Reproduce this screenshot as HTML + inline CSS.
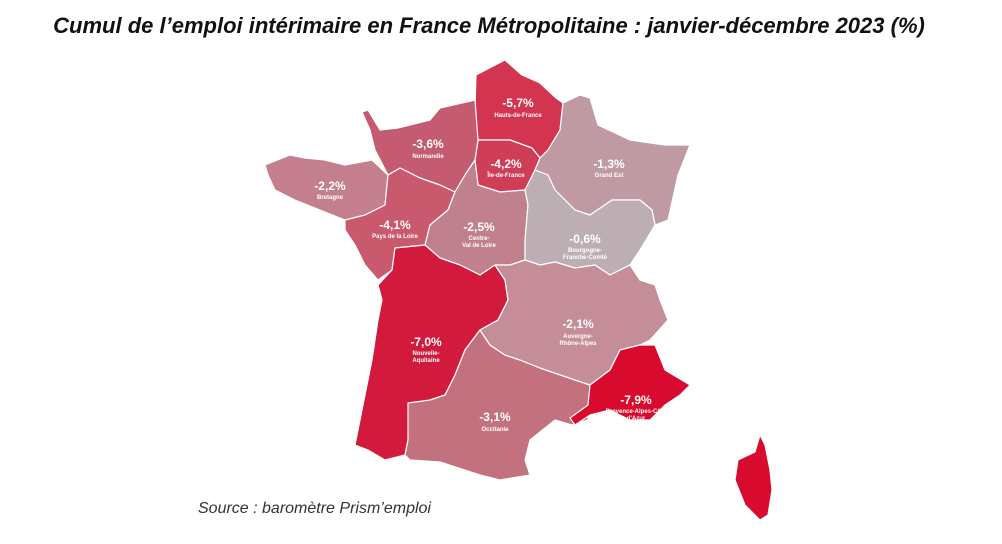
<!DOCTYPE html>
<html><head><meta charset="utf-8"><style>
body{margin:0;background:#fff;width:1002px;height:544px;overflow:hidden;position:relative;font-family:"Liberation Sans",sans-serif}
.t{position:absolute;left:0;width:978px;text-align:center;top:13px;font-size:22px;font-weight:bold;font-style:italic;color:#111;white-space:nowrap}
.s{position:absolute;left:198px;top:500px;font-size:16px;font-style:italic;color:#333}
svg{position:absolute;left:0;top:0}
svg polygon{stroke:#fff;stroke-width:1.2;stroke-linejoin:round}
.v{font:bold 12px "Liberation Sans",sans-serif;fill:#fff;text-anchor:middle}
.n{font:bold 6px "Liberation Sans",sans-serif;fill:#fff;text-anchor:middle}
</style></head><body>
<div class="t">Cumul de l’emploi intérimaire en France Métropolitaine : janvier-décembre 2023 (%)</div>
<svg width="1002" height="544">
<polygon fill="#d3344f" points="476,75 505,60 522,75 540,83 556,98 563,103 560,130 548,150 540,158 532,148 510,140 478,140 475,110"/>
<polygon fill="#cf3d57" points="478,140 510,140 532,148 540,158 535,170 525,190 500,192 478,185 475,160"/>
<polygon fill="#c45b70" points="362,112 368,110 380,130 398,128 430,120 440,108 475,100 478,140 475,160 465,175 455,192 440,185 420,178 400,168 388,175 375,150 370,130"/>
<polygon fill="#c37f8d" points="265,165 290,155 305,158 325,160 345,165 372,160 388,175 385,205 365,215 345,220 320,210 295,200 275,190 268,175"/>
<polygon fill="#c95a6e" points="388,175 400,168 420,178 440,185 455,192 448,210 430,225 425,245 395,248 392,270 378,280 365,265 355,245 345,230 345,220 365,215 385,205"/>
<polygon fill="#c1808d" points="455,192 465,175 475,160 478,185 500,192 525,190 528,205 525,240 525,260 510,265 495,265 480,275 460,265 440,258 425,245 430,225 448,210"/>
<polygon fill="#c09aa3" points="540,158 548,150 560,130 563,103 580,95 590,98 598,125 630,140 665,145 690,145 678,175 668,220 655,225 652,210 640,200 612,200 590,215 575,210 555,190 548,175 535,170"/>
<polygon fill="#bcaeb3" points="525,190 535,170 548,175 555,190 575,210 590,215 612,200 640,200 652,210 655,225 640,250 630,265 610,275 595,265 575,268 555,262 540,265 525,260 525,240 528,205"/>
<polygon fill="#d21b3c" points="395,248 425,245 440,258 460,265 480,275 495,265 505,280 508,300 498,320 480,330 465,350 455,375 445,395 430,400 410,415 408,440 405,455 385,460 368,450 355,445 362,410 372,360 378,320 382,300 378,285 392,270"/>
<polygon fill="#c4717f" points="408,403 430,400 445,395 455,375 465,350 480,330 490,345 505,355 520,360 540,368 575,380 590,385 588,420 572,425 555,420 530,440 525,460 530,475 500,480 480,475 440,462 410,460 405,455 408,440"/>
<polygon fill="#c48d98" points="495,265 510,265 525,260 540,265 555,262 575,268 595,265 610,275 630,265 640,280 655,285 660,300 668,320 650,340 640,345 620,350 610,370 590,385 575,380 540,368 520,360 505,355 490,345 480,330 498,320 508,300 505,280"/>
<polygon fill="#d80a2e" points="640,345 655,345 665,370 690,385 680,395 665,405 650,420 630,420 610,410 590,415 575,425 570,418 588,405 590,385 610,370 620,350"/>
<polygon fill="#d80a2e" points="760,435 765,445 770,470 772,490 768,515 760,520 745,505 735,480 738,460 755,452"/>
<text class="v" x="518" y="107">-5,7%</text><text class="n" x="518" y="117">Hauts-de-France</text>
<text class="v" x="506" y="168">-4,2%</text><text class="n" x="506" y="177">Île-de-France</text>
<text class="v" x="428" y="148">-3,6%</text><text class="n" x="428" y="158">Normandie</text>
<text class="v" x="330" y="190">-2,2%</text><text class="n" x="330" y="199">Bretagne</text>
<text class="v" x="395" y="229">-4,1%</text><text class="n" x="395" y="238">Pays de la Loire</text>
<text class="v" x="479" y="231">-2,5%</text><text class="n" x="479" y="240">Centre-</text><text class="n" x="479" y="247">Val de Loire</text>
<text class="v" x="609" y="168">-1,3%</text><text class="n" x="609" y="177">Grand Est</text>
<text class="v" x="585" y="243">-0,6%</text><text class="n" x="585" y="252">Bourgogne-</text><text class="n" x="585" y="259">Franche-Comté</text>
<text class="v" x="578" y="328">-2,1%</text><text class="n" x="578" y="338">Auvergne-</text><text class="n" x="578" y="345">Rhône-Alpes</text>
<text class="v" x="426" y="346">-7,0%</text><text class="n" x="426" y="355">Nouvelle-</text><text class="n" x="426" y="362">Aquitaine</text>
<text class="v" x="495" y="421">-3,1%</text><text class="n" x="495" y="431">Occitanie</text>
<text class="v" x="636" y="404">-7,9%</text><text class="n" x="636" y="413">Provence-Alpes-Côte</text><text class="n" x="636" y="420">d'Azur</text>
</svg>
<div class="s">Source : baromètre Prism’emploi</div>
</body></html>
